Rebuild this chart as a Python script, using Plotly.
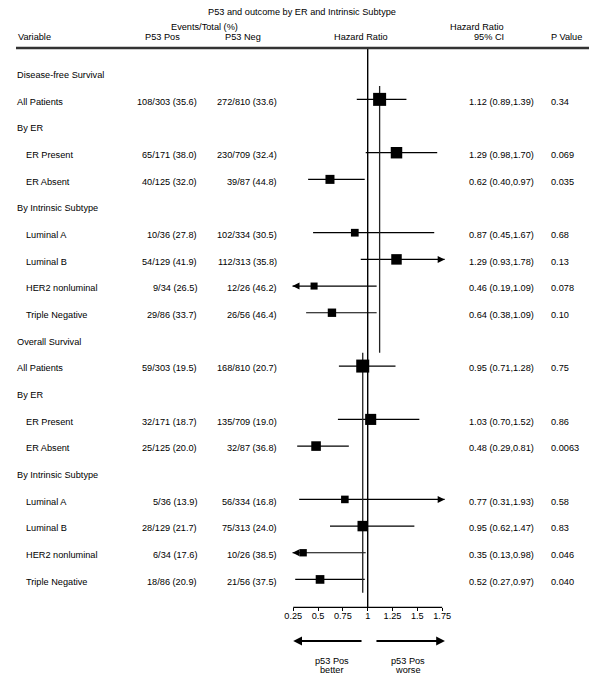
import math
import plotly.graph_objects as go

# ---------------- data ----------------
title_text = "P53 and outcome by ER and Intrinsic Subtype"

row_labels = ["Disease-free Survival", "All Patients", "By ER", "ER Present", "ER Absent",
              "By Intrinsic Subtype", "Luminal A", "Luminal B", "HER2 nonluminal", "Triple Negative",
              "Overall Survival", "All Patients", "By ER", "ER Present", "ER Absent",
              "By Intrinsic Subtype", "Luminal A", "Luminal B", "HER2 nonluminal", "Triple Negative"]
row_indent = [0, 0, 0, 1, 1, 0, 1, 1, 1, 1, 0, 0, 0, 1, 1, 0, 1, 1, 1, 1]

p53_pos = ["", "108/303 (35.6)", "", "65/171 (38.0)", "40/125 (32.0)", "", "10/36 (27.8)",
           "54/129 (41.9)", "9/34 (26.5)", "29/86 (33.7)", "", "59/303 (19.5)", "", "32/171 (18.7)",
           "25/125 (20.0)", "", "5/36 (13.9)", "28/129 (21.7)", "6/34 (17.6)", "18/86 (20.9)"]
p53_neg = ["", "272/810 (33.6)", "", "230/709 (32.4)", "39/87 (44.8)", "", "102/334 (30.5)",
           "112/313 (35.8)", "12/26 (46.2)", "26/56 (46.4)", "", "168/810 (20.7)", "", "135/709 (19.0)",
           "32/87 (36.8)", "", "56/334 (16.8)", "75/313 (24.0)", "10/26 (38.5)", "21/56 (37.5)"]

hazard_ratio = [None, 1.12, None, 1.29, 0.62, None, 0.87, 1.29, 0.46, 0.64,
                None, 0.95, None, 1.03, 0.48, None, 0.77, 0.95, 0.35, 0.52]
ci_low = [None, 0.89, None, 0.98, 0.40, None, 0.45, 0.93, 0.19, 0.38,
          None, 0.71, None, 0.70, 0.29, None, 0.31, 0.62, 0.13, 0.27]
ci_high = [None, 1.39, None, 1.70, 0.97, None, 1.67, 1.78, 1.09, 1.09,
           None, 1.28, None, 1.52, 0.81, None, 1.93, 1.47, 0.98, 0.97]
p_values = ["", "0.34", "", "0.069", "0.035", "", "0.68", "0.13", "0.078", "0.10",
            "", "0.75", "", "0.86", "0.0063", "", "0.58", "0.83", "0.046", "0.040"]

sections = [(0, 10), (10, 20)]          # row ranges of DFS and OS blocks
summary_hr = [1.12, 0.95]               # overall HR per block
summary_span = [(0.5, 10.5), (10.5, 19.5)]

tick_vals = [0.25, 0.5, 0.75, 1.0, 1.25, 1.5, 1.75]
tick_text = ["0.25", "0.5", "0.75", "1", "1.25", "1.5", "1.75"]

# ---------------- geometry / style ----------------
OFF = 8                     # page body margin
W, H = 600 - OFF, 685 - OFF
PX_UNIT = 99.3              # pixels per HR unit
X_ONE = 367.7 - OFF         # pixel of HR = 1 (figure coords)
ROW0 = 72.7 - OFF           # pixel of row 0 (figure coords)
ROW_H = 26.67               # pixels per row
AX_LO, AX_HI = 0.25, 1.75
CLIP_LO, CLIP_HI = 0.243, 1.775
FONT = "Liberation Sans, Arial, sans-serif"
FS = 9.2


def prow(y_px):
    return (y_px - OFF - ROW0) / ROW_H


def px_x(x_px):
    return (x_px - OFF) / W


def px_y(y_px):
    return 1 - (y_px - OFF) / H


fig = go.Figure()

# box sizes from inverse CI width, scaled within each block
box_size = [None] * len(hazard_ratio)
for a, b in sections:
    w = {i: 1 / math.log(ci_high[i] / ci_low[i]) for i in range(a, b) if hazard_ratio[i] is not None}
    wmax = max(w.values())
    for i, v in w.items():
        box_size[i] = 5 + 8 * v / wmax

# CI lines
cx, cy = [], []
left_arrows, right_arrows = ([], []), ([], [])
for i, h in enumerate(hazard_ratio):
    if h is None:
        continue
    lo = ci_low[i] if ci_low[i] >= AX_LO else CLIP_LO
    hi = ci_high[i] if ci_high[i] <= AX_HI else CLIP_HI
    cx += [lo, hi, None]
    cy += [i, i, None]
    if ci_low[i] < AX_LO:
        left_arrows[0].append(lo); left_arrows[1].append(i)
    if ci_high[i] > AX_HI:
        right_arrows[0].append(hi); right_arrows[1].append(i)

fig.add_trace(go.Scatter(x=cx, y=cy, mode="lines", line=dict(color="black", width=1.2),
                         hoverinfo="skip", showlegend=False))
fig.add_trace(go.Scatter(x=left_arrows[0], y=left_arrows[1], mode="markers",
                         marker=dict(symbol="arrow-left", size=7, color="black", line=dict(width=0)),
                         showlegend=False, hoverinfo="skip"))
fig.add_trace(go.Scatter(x=right_arrows[0], y=right_arrows[1], mode="markers",
                         marker=dict(symbol="arrow-right", size=7, color="black", line=dict(width=0)),
                         showlegend=False, hoverinfo="skip"))

# reference line at HR = 1
fig.add_trace(go.Scatter(x=[1, 1], y=[prow(49), prow(607.3)], mode="lines",
                         line=dict(color="black", width=1.4), showlegend=False, hoverinfo="skip"))
# summary lines
for shr, (ya, yb) in zip(summary_hr, summary_span):
    fig.add_trace(go.Scatter(x=[shr, shr], y=[ya, yb], mode="lines",
                             line=dict(color="#222222", width=1.3), showlegend=False, hoverinfo="skip"))

# boxes
bx = [h for h in hazard_ratio if h is not None]
by = [i for i, h in enumerate(hazard_ratio) if h is not None]
bs = [box_size[i] for i in by]
fig.add_trace(go.Scatter(x=bx, y=by, mode="markers",
                         marker=dict(symbol="square", size=bs, color="black", opacity=1,
                                     line=dict(width=0)),
                         showlegend=False, hoverinfo="skip"))

# x-axis baseline
axis_row = prow(607.3)
fig.add_shape(type="line", xref="x", yref="y", x0=AX_LO, x1=AX_HI, y0=axis_row, y1=axis_row,
              line=dict(color="black", width=1.2))
# header rule
fig.add_shape(type="line", xref="paper", yref="paper", x0=px_x(16), x1=px_x(589),
              y0=px_y(48), y1=px_y(48), line=dict(color="#333333", width=2.5))

ann = []


def text(x, y, s, anchor="left", xref="paper", yref="paper", size=FS):
    ann.append(dict(x=x, y=y, xref=xref, yref=yref, text=s, showarrow=False,
                    xanchor=anchor, yanchor="middle", borderpad=0, borderwidth=0,
                    font=dict(family=FONT, size=size, color="black")))


# title and headers
text(px_x(302), px_y(12), title_text, "center")
text(px_x(204), px_y(27), "Events/Total (%)", "center")
text(px_x(18), px_y(37), "Variable", "left")
text(px_x(162), px_y(37), "P53 Pos", "center")
text(px_x(243), px_y(37), "P53 Neg", "center")
text(px_x(361), px_y(37), "Hazard Ratio", "center")
text(px_x(504), px_y(27), "Hazard Ratio", "right")
text(px_x(504), px_y(37), "95% CI", "right")
text(px_x(551), px_y(37), "P Value", "left")

# rows
for i, lab in enumerate(row_labels):
    yr = i + 0.08
    text(px_x(26 if row_indent[i] else 17), yr, lab, "left", yref="y")
    if p53_pos[i]:
        text(px_x(197), yr, p53_pos[i], "right", yref="y")
    if p53_neg[i]:
        text(px_x(277), yr, p53_neg[i], "right", yref="y")
    if hazard_ratio[i] is not None:
        s = f"{hazard_ratio[i]:.2f} ({ci_low[i]:.2f},{ci_high[i]:.2f})"
        text(px_x(469), yr, s, "left", yref="y")
    if p_values[i]:
        text(px_x(551), yr, p_values[i], "left", yref="y")

# bottom direction arrows and labels
arrow_row = prow(641)
for tip, tail in [(AX_LO, 0.953), (1.778, 1.073)]:
    ann.append(dict(x=tip, y=arrow_row, xref="x", yref="y", ax=tail, ay=arrow_row,
                    axref="x", ayref="y", text="", showarrow=True, arrowhead=2,
                    arrowsize=0.8, arrowwidth=2.2, arrowcolor="black"))
text(px_x(331.7), px_y(660.7), "p53 Pos", "center")
text(px_x(331.7), px_y(669.5), "better", "center")
text(px_x(408.3), px_y(660.7), "p53 Pos", "center")
text(px_x(408.3), px_y(669.5), "worse", "center")

fig.update_layout(
    width=W, height=H, margin=dict(l=0, r=0, t=0, b=0),
    paper_bgcolor="white", plot_bgcolor="white",
    annotations=ann,
    xaxis=dict(range=[1 - X_ONE / PX_UNIT, 1 + (W - X_ONE) / PX_UNIT], domain=[0, 1],
               anchor="free", position=1 - (607.3 - OFF) / H,
               tickmode="array", tickvals=tick_vals, ticktext=tick_text,
               ticks="outside", ticklen=3, tickwidth=1, tickcolor="black",
               ticklabelstandoff=-3,
               showline=False, showgrid=False, zeroline=False,
               tickfont=dict(family=FONT, size=FS, color="black")),
    yaxis=dict(range=[(H - ROW0) / ROW_H, -ROW0 / ROW_H], domain=[0, 1], visible=False,
               showgrid=False, zeroline=False),
    showlegend=False,
)

fig.write_html("out.html")
